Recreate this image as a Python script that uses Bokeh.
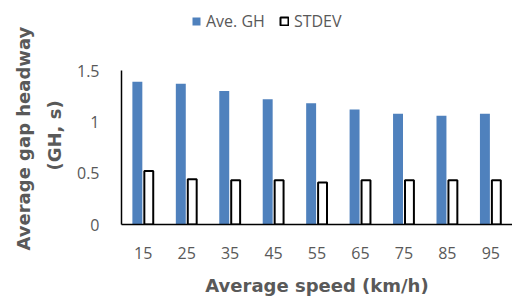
from bokeh.plotting import figure
from bokeh.models import ColumnDataSource, FactorRange, Legend, LegendItem, FixedTicker, Range1d, Title
from bokeh.transform import dodge
from bokeh.embed import file_html
from bokeh.resources import INLINE

speeds = ["15", "25", "35", "45", "55", "65", "75", "85", "95"]
ave_gh = [1.39, 1.37, 1.30, 1.22, 1.18, 1.12, 1.08, 1.06, 1.08]
stdev = [0.52, 0.44, 0.43, 0.43, 0.41, 0.43, 0.43, 0.43, 0.43]
y_ticks = [0, 0.5, 1, 1.5]
y_tick_labels = ["0", "0.5", "1", "1.5"]
y_title_lines = ["Average gap headway", "(GH, s)"]

src = ColumnDataSource(dict(x=speeds, gh=ave_gh, sd=stdev))

FONT = "Open Sans"
TFONT = "DejaVu Sans"
GRAY = "#595959"

# the frame extends above the value axis (0-1.5) to make room for the legend
p = figure(width=512, height=298, x_range=FactorRange(*speeds, range_padding=0),
           y_range=Range1d(0, 2.143), output_backend="svg", toolbar_location=None,
           min_border_left=121, min_border_right=0, min_border_top=4, min_border_bottom=0)

r1 = p.vbar(x=dodge("x", -0.135, range=p.x_range), top="gh", width=0.229, source=src,
            fill_color="#4F81BD", line_color=None)
r2 = p.vbar(x=dodge("x", 0.128, range=p.x_range), top="sd", width=0.205, source=src,
            fill_color="white", line_color="black", line_width=2)

p.xgrid.visible = False
p.ygrid.visible = False
p.outline_line_color = None

for ax in (p.xaxis[0], p.yaxis[0]):
    ax.axis_line_color = "black"
    ax.axis_line_width = 1.5
    ax.major_tick_line_color = None
    ax.minor_tick_line_color = None
    ax.major_label_text_font = FONT
    ax.major_label_text_font_size = "16px"
    ax.major_label_text_color = GRAY
    ax.axis_label_text_font = TFONT
    ax.axis_label_text_font_style = "bold"
    ax.axis_label_text_font_size = "18px"
    ax.axis_label_text_color = GRAY

p.yaxis.bounds = (0, 1.5)
p.yaxis.ticker = FixedTicker(ticks=y_ticks)
p.yaxis.major_label_overrides = {t: l for t, l in zip(y_ticks, y_tick_labels)}
p.yaxis.major_label_standoff = 16

# y title as two rotated titles in the left panel (inner line first)
for txt, so, off in ((y_title_lines[1], 17, 54), (y_title_lines[0], 0, -26)):
    p.add_layout(Title(text=txt, align="left", offset=off, standoff=so,
                       text_font=TFONT, text_font_style="bold", text_font_size="18px",
                       text_color=GRAY), "left")

p.xaxis.major_label_standoff = 16
p.xaxis.axis_label = "Average speed (km/h)"
p.xaxis.axis_label_standoff = 13

legend = Legend(items=[LegendItem(label="Ave. GH", renderers=[r1]),
                       LegendItem(label="STDEV", renderers=[r2])],
                orientation="horizontal", location=(70, 192),
                padding=0, margin=0, spacing=14, label_standoff=5,
                glyph_width=10, glyph_height=10,
                label_text_font=FONT, label_text_font_size="16px", label_text_color=GRAY,
                border_line_color=None, background_fill_alpha=0)
p.add_layout(legend, "center")

open("out.html", "w").write(file_html(p, INLINE))
